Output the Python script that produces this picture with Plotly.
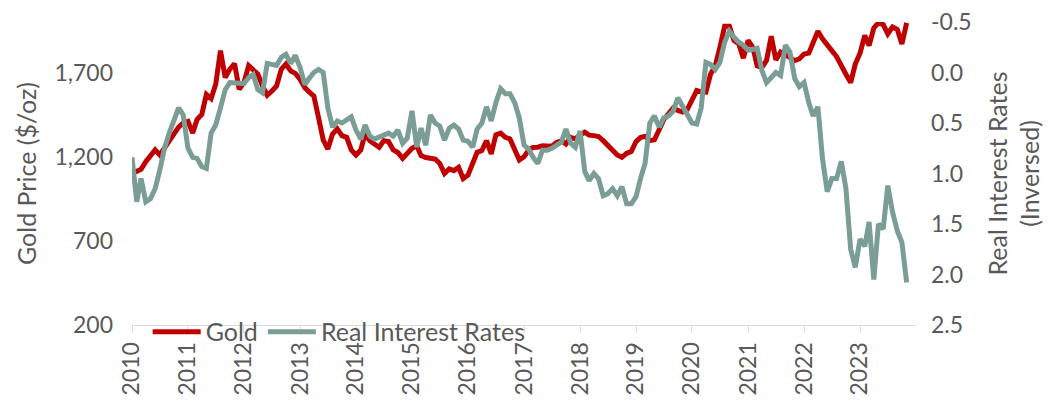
import plotly.graph_objects as go
import pandas as pd

# Monthly gold price ($/oz), Jan 2010 - Nov 2023
gold = [
    1100, 1115, 1125, 1170, 1210, 1240, 1210, 1250, 1300, 1340, 1375, 1400,   # 2010
    1410, 1340, 1420, 1450, 1570, 1545, 1630, 1830, 1670, 1720, 1752, 1600,   # 2011
    1640, 1741, 1715, 1690, 1620, 1565, 1590, 1620, 1720, 1750, 1710, 1695,   # 2012
    1660, 1610, 1585, 1560, 1434, 1300, 1245, 1335, 1365, 1325, 1315, 1240,   # 2013
    1210, 1240, 1335, 1295, 1275, 1256, 1295, 1290, 1240, 1225, 1190, 1215,   # 2014
    1250, 1265, 1206, 1195, 1188, 1186, 1160, 1100, 1127, 1117, 1137, 1070,   # 2015
    1090, 1170, 1226, 1236, 1295, 1216, 1330, 1340, 1315, 1305, 1245, 1180,   # 2016
    1200, 1240, 1255, 1256, 1265, 1265, 1262, 1285, 1295, 1275, 1315, 1305,   # 2017
    1330, 1345, 1328, 1325, 1320, 1295, 1265, 1236, 1210, 1196, 1220, 1230,   # 2018
    1290, 1315, 1320, 1295, 1300, 1360, 1420, 1454, 1490, 1475, 1465, 1480,   # 2019
    1540, 1593, 1585, 1583, 1690, 1740, 1850, 1975, 1975, 1890, 1870, 1785,   # 2020
    1890, 1850, 1740, 1730, 1771, 1915, 1775, 1821, 1805, 1790, 1771, 1781,   # 2021
    1810, 1815, 1870, 1945, 1900, 1860, 1830, 1795, 1735, 1690, 1640, 1750,   # 2022
    1815, 1920, 1860, 1965, 1995, 1985, 1930, 1970, 1955, 1870, 1995,         # 2023
]

# Monthly real interest rate (%), plotted on an inverted axis
real_rates = [
    0.84, 1.28, 1.05, 1.28, 1.25, 1.15, 0.97, 0.75, 0.60, 0.47, 0.35, 0.42,   # 2010
    0.75, 0.84, 0.85, 0.93, 0.95, 0.60, 0.52, 0.35, 0.17, 0.10, 0.10, 0.11,   # 2011
    0.11, 0.05, 0.02, 0.17, 0.20, -0.09, -0.08, -0.07, -0.15, -0.18, -0.09, -0.17,  # 2012
    -0.05, 0.12, 0.06, 0.00, -0.03, 0.00, 0.35, 0.54, 0.48, 0.50, 0.47, 0.44,  # 2013
    0.57, 0.66, 0.52, 0.63, 0.66, 0.64, 0.61, 0.60, 0.63, 0.57, 0.70, 0.65,   # 2014
    0.38, 0.74, 0.55, 0.72, 0.42, 0.50, 0.53, 0.67, 0.55, 0.52, 0.56, 0.67,   # 2015
    0.68, 0.74, 0.56, 0.50, 0.34, 0.48, 0.30, 0.16, 0.21, 0.21, 0.30, 0.45,   # 2016
    0.72, 0.76, 0.84, 0.90, 0.77, 0.77, 0.75, 0.72, 0.69, 0.56, 0.70, 0.74,   # 2017
    0.58, 0.98, 1.07, 1.00, 1.05, 1.22, 1.20, 1.15, 1.22, 1.13, 1.30, 1.30,   # 2018
    1.23, 1.04, 0.90, 0.50, 0.43, 0.54, 0.45, 0.43, 0.38, 0.25, 0.33, 0.40,   # 2019
    0.50, 0.51, 0.35, -0.10, -0.08, -0.03, -0.10, -0.30, -0.41, -0.35, -0.30, -0.27,  # 2020
    -0.22, -0.23, -0.24, -0.02, 0.10, 0.05, 0.00, 0.03, -0.27, -0.20, 0.06, 0.14,  # 2021
    0.10, 0.30, 0.43, 0.34, 0.85, 1.18, 1.05, 1.05, 0.88, 1.15, 1.75, 1.93,   # 2022
    1.65, 1.72, 1.48, 2.05, 1.50, 1.55, 1.12, 1.38, 1.57, 1.68, 2.08,         # 2023
]

dates = pd.date_range("2010-01-01", periods=len(gold), freq="MS")

year_ticks = list(pd.date_range("2010-01-01", "2023-01-01", freq="YS"))
year_labels = [str(d.year) for d in year_ticks]

gold_ticks = [200, 700, 1200, 1700]
gold_tick_labels = ["200", "700", "1,200", "1,700"]

rate_ticks = [-0.5, 0.0, 0.5, 1.0, 1.5, 2.0, 2.5]
rate_tick_labels = ["-0.5", "0.0", "0.5", "1.0", "1.5", "2.0", "2.5"]

RED = "#C00000"
TEAL = "#7A9D96"
TXT = "#595959"
AX = "#D9D9D9"
FONT = "Lato"

fig = go.Figure()
fig.add_trace(go.Scatter(x=dates, y=gold, name="Gold", mode="lines",
                         line=dict(color=RED, width=5), yaxis="y"))
fig.add_trace(go.Scatter(x=dates, y=real_rates, name="Real Interest Rates", mode="lines",
                         line=dict(color=TEAL, width=5), yaxis="y2"))

# The page body adds an 8px offset, so the figure is sized/margined to compensate.
fig.update_layout(
    width=1055, height=392, autosize=False,
    margin=dict(l=124, r=147, t=14, b=75, autoexpand=False),
    paper_bgcolor="white", plot_bgcolor="white",
    font=dict(family=FONT, size=23, color=TXT),
    showlegend=True,
    legend=dict(orientation="h", x=0.02, xanchor="left", y=-0.023, yanchor="middle",
                bgcolor="rgba(0,0,0,0)", font=dict(size=25, color=TXT),
                itemwidth=48, tracegroupgap=0),
    xaxis=dict(type="date", range=["2010-01-01", "2024-01-01"], automargin=False,
               tickmode="array", tickvals=year_ticks, ticktext=year_labels,
               tickangle=-90, ticks="outside", ticklen=7, tickcolor=AX,
               showline=True, linecolor=AX, linewidth=1, ticklabeloverflow="allow",
               showgrid=False, zeroline=False, tickfont=dict(size=23, color=TXT)),
    yaxis=dict(range=[200, 2000], tickmode="array", tickvals=gold_ticks, automargin=False,
               ticktext=gold_tick_labels, showgrid=False, zeroline=False,
               showline=False, ticks="", ticklabelstandoff=18, ticklabeloverflow="allow",
               title=dict(text="Gold Price ($/oz)", standoff=10,
                          font=dict(size=25, color=TXT))),
    yaxis2=dict(range=[2.5, -0.5], overlaying="y", side="right", anchor="x", automargin=False,
                tickmode="array", tickvals=rate_ticks, ticktext=rate_tick_labels,
                showgrid=False, zeroline=False, showline=False, ticks="",
                ticklabelstandoff=14, ticklabeloverflow="allow",
                title=dict(text="Real Interest Rates<br>(Inversed)", standoff=18,
                           font=dict(size=25, color=TXT))),
)

fig.write_html("out.html")
